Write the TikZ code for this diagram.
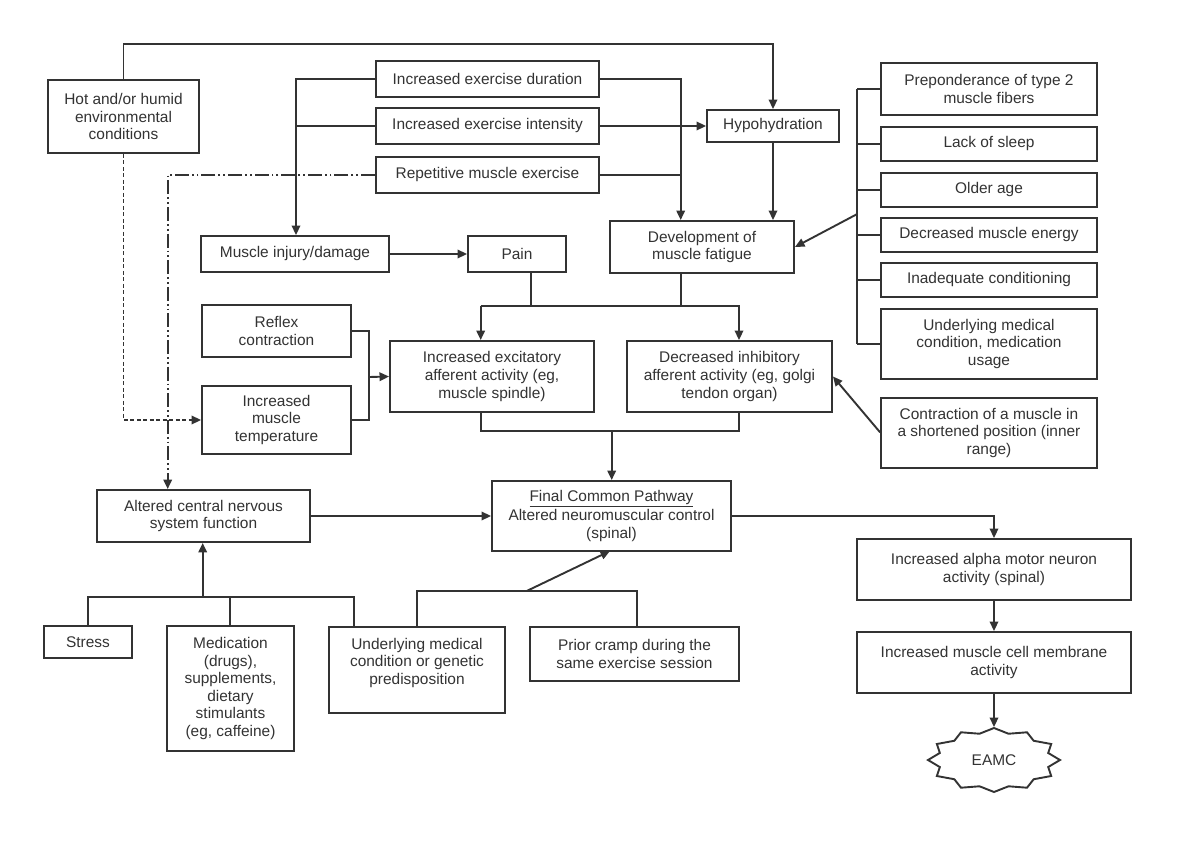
\documentclass[tikz,border=0pt]{standalone}
\usepackage{fontspec}
\setmainfont{Liberation Sans}
\usetikzlibrary{arrows.meta}
\definecolor{lc}{HTML}{333333}
\definecolor{tc}{HTML}{333333}
\begin{document}
\begin{tikzpicture}[x=1bp,y=-1bp,
  box/.style={draw=lc, line width=1.9bp, align=center, inner sep=0pt, text=tc,
    font=\fontsize{15.5}{17.6}\selectfont},
  conn/.style={draw=lc, line width=1.9bp},
  arr/.style={conn, -{Triangle[length=9.5bp,width=8.5bp]}},
  dashline/.style={dash pattern=on 4bp off 2.5bp},
  dashdot/.style={dash pattern=on 14bp off 3bp on 1.8bp off 3bp on 1.8bp off 3bp}]
\useasboundingbox (0,0) rectangle (1200,842);
\fill[white] (0,0) rectangle (1200,842);

% top area
\node[box, minimum width=151bp, minimum height=73bp] (hot) at (123.5,116.5) {Hot and/or humid\\environmental\\conditions};
\node[box, minimum width=223bp, minimum height=36bp] (dur) at (487.5,79) {Increased exercise duration};
\node[box, minimum width=223bp, minimum height=36bp] (int) at (487.5,126) {Increased exercise intensity};
\node[box, minimum width=223bp, minimum height=36bp] (rep) at (487.5,175) {Repetitive muscle exercise};
\node[box, minimum width=132bp, minimum height=32bp] (hypo) at (773,126) {Hypohydration};
\node[box, minimum width=188bp, minimum height=36bp] (inj) at (295,254) {Muscle injury/damage};
\node[box, minimum width=98bp, minimum height=36bp] (pain) at (517,254) {Pain};
\node[box, minimum width=184bp, minimum height=52bp] (dev) at (702,247) {Development of\\muscle fatigue};

% right column
\node[box, minimum width=216bp, minimum height=52bp] (pre) at (989,89) {Preponderance of type 2\\muscle fibers};
\node[box, minimum width=216bp, minimum height=34bp] (sleep) at (989,144) {Lack of sleep};
\node[box, minimum width=216bp, minimum height=34bp] (old) at (989,190) {Older age};
\node[box, minimum width=216bp, minimum height=34bp] (energy) at (989,235) {Decreased muscle energy};
\node[box, minimum width=216bp, minimum height=34bp] (inad) at (989,280) {Inadequate conditioning};
\node[box, minimum width=216bp, minimum height=70bp] (umed) at (989,344) {Underlying medical\\condition, medication\\usage};
\node[box, minimum width=216bp, minimum height=70bp] (contr) at (989,433) {Contraction of a muscle in\\a shortened position (inner\\range)};

% middle
\node[box, minimum width=149bp, minimum height=52bp] (reflex) at (276.5,331) {Reflex\\contraction};
\node[box, minimum width=149bp, minimum height=68bp] (temp) at (276.5,420) {Increased\\muscle\\temperature};
\node[box, minimum width=204bp, minimum height=71bp] (exc) at (492,376.5) {Increased excitatory\\afferent activity (eg,\\muscle spindle)};
\node[box, minimum width=205bp, minimum height=71bp] (inh) at (729.5,376.5) {Decreased inhibitory\\afferent activity (eg, golgi\\tendon organ)};
\node[box, minimum width=239bp, minimum height=70bp] (final) at (611.5,516) {\underline{Final Common Pathway}\\[1.2bp]Altered neuromuscular control\\(spinal)};
\node[box, minimum width=213bp, minimum height=52bp] (cns) at (203.5,516) {Altered central nervous\\system function};
\node[box, minimum width=274bp, minimum height=61bp] (alpha) at (994,569.5) {Increased alpha motor neuron\\activity (spinal)};
\node[box, minimum width=274bp, minimum height=61bp] (memb) at (994,662.5) {Increased muscle cell membrane\\activity};
\node[box, draw=none, minimum width=132bp, minimum height=64bp] (eamc) at (994,760) {EAMC};
\draw[conn, line join=miter] plot[samples at={0,...,23}, variable=\k]
  ({994+(1-0.15*mod(\k,2))*66*cos(90+15*\k)}, {760-(1-0.15*mod(\k,2))*32*sin(90+15*\k)}) -- cycle;

% bottom row
\node[box, minimum width=88bp, minimum height=32bp] (stress) at (88,642) {Stress};
\node[box, minimum width=127bp, minimum height=125bp] (medi) at (230.5,688.5) {Medication\\(drugs),\\supplements,\\dietary\\stimulants\\(eg, caffeine)};
\node[box, minimum width=176bp, minimum height=86bp] (ugen) at (417,670) {Underlying medical\\condition or genetic\\predisposition\\\mbox{}};
\node[box, minimum width=209bp, minimum height=54bp] (prior) at (634.5,654) {Prior cramp during the\\same exercise session};

% coordinates
\coordinate (rb) at (856.7,214.3);
\coordinate (ej) at (611.7,431);
\coordinate (mj) at (369.3,377);
\coordinate (cj) at (202.7,597);
\coordinate (gj) at (526.7,591);

% connectors - top
\draw[arr] (hot.north) -- (123.5,44) -| (hypo.north);
\draw[arr, dashline] (hot.south) |- (temp.west);
\draw[arr] (dur.west) -- (296,79) -- (inj.north -| 296,0);
\draw[conn] (int.west) -- (296,126);
\draw[arr, dashdot] (rep.west) -- (167.7,175) -- (cns.north -| 167.7,0);
\draw[arr] (dur.east) -- (680.7,79) -- (dev.north -| 680.7,0);
\draw[conn] (rep.east) -- (680.7,175);
\draw[arr] (int.east) -- (hypo.west);
\draw[arr] (hypo.south) -- (dev.north -| hypo.south);
\draw[arr] (inj.east) -- (pain.west);

% right bracket
\draw[conn] (856.7,89) -- (856.7,344);
\foreach \n in {pre,sleep,old,energy,inad,umed}
  \draw[conn] (\n.west) -- (\n.west -| rb);
\draw[arr] (rb) -- (dev.east);

% pain/dev to exc/inh
\draw[conn] (530.7,272) -- (530.7,306);
\draw[conn] (680.7,273) -- (680.7,306);
\draw[arr] (480.7,306) -- (exc.north -| 480.7,0);
\draw[arr] (480.7,306) -- (739,306) -- (inh.north -| 739,0);

% reflex/temp merge
\draw[conn] (reflex.east) -- (369.3,331) -- (369.3,420) -- (temp.east);
\draw[arr] (mj) -- (exc.west);

% exc/inh to final
\draw[conn] (480.7,412) -- (480.7,431) -- (739,431) -- (739,412);
\draw[arr] (ej) -- (final.north -| ej);
\draw[arr] (contr.west) ++(0,-0.7) -- (inh.east);

\draw[arr] (cns.east) -- (final.west |- cns.east);
\draw[arr] (final.east) -| (alpha.north);
\draw[arr] (alpha.south) -- (memb.north);
\draw[arr] (memb.south) -- (eamc.north);

% bottom connectors
\draw[conn] (stress.north) -- (88,597) -- (354,597) -- (354,627);
\draw[conn] (medi.north -| 230,0) -- (230,597);
\draw[arr] (cj) -- (cns.south -| cj);
\draw[conn] (417.3,627) -- (417.3,591) -- (636.7,591) -- (prior.north -| 636.7,0);
\draw[arr] (gj) -- (610,551);
\end{tikzpicture}
\end{document}
